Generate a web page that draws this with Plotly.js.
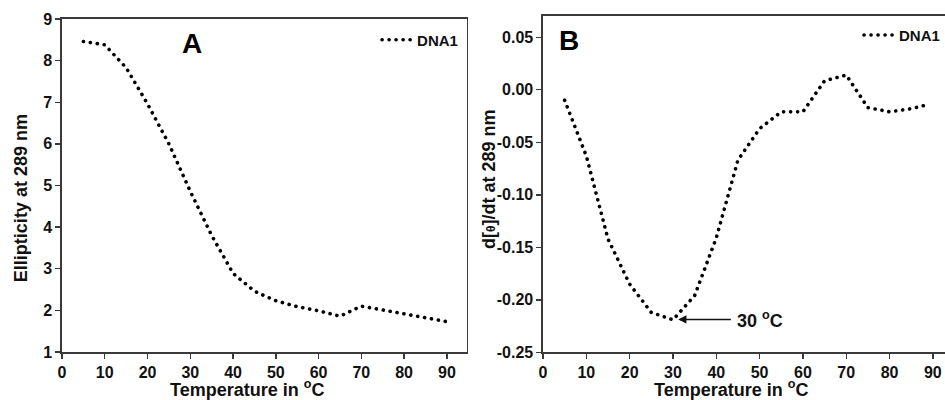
<!DOCTYPE html>
<html>
<head>
<meta charset="utf-8">
<script src="https://cdn.plot.ly/plotly-3.0.1.min.js"></script>
<style>
  html, body { margin: 0; padding: 0; background: #fff; }
  #chart { width: 945px; height: 400px; }
  .scatterlayer path.js-line, .legendlines path { stroke-linecap: round; }
</style>
</head>
<body>
<div id="chart"></div>
<script>
// ---- data ----
const tempA = [5, 10, 15, 20, 25, 30, 35, 40, 45, 50, 55, 60, 65, 70, 75, 80, 85, 90];
const ellipticity = [8.46, 8.38, 7.83, 6.96, 6.0, 4.86, 3.80, 2.89, 2.46, 2.23, 2.09, 1.99, 1.86, 2.10, 2.01, 1.91, 1.81, 1.73];

const tempB = [5, 10, 15, 20, 25, 30, 35, 40, 45, 50, 55, 60, 65, 70, 75, 80, 85, 89];
const derivative = [-0.010, -0.063, -0.142, -0.185, -0.212, -0.219, -0.196, -0.141, -0.067, -0.037, -0.021, -0.021, 0.0085, 0.014, -0.017, -0.021, -0.018, -0.014];

const xTicks = [0, 10, 20, 30, 40, 50, 60, 70, 80, 90];
const yTicksA = [1, 2, 3, 4, 5, 6, 7, 8, 9];
const yTicksB = [-0.25, -0.20, -0.15, -0.10, -0.05, 0.00, 0.05];
const yTickTextB = ["-0.25", "-0.20", "-0.15", "-0.10", "-0.05", "0.00", "0.05"];
const seriesName = "DNA1";
const peakLabel = "30 <sup>o</sup>C";
const peakPoint = [31.2, -0.2186];

// ---- styling ----
const FONT = "Liberation Sans, Arial, Helvetica, sans-serif";
const AX = "#3a3a3a";
const dotLine = { color: "#000", width: 3.6, dash: "0.1px,6.9px" };

const axisBase = {
  showgrid: false, zeroline: false, showline: true, linecolor: AX, linewidth: 1.6,
  ticks: "outside", ticklen: 5, tickwidth: 1.4, tickcolor: AX,
  tickfont: { family: FONT, size: 16, color: "#111", weight: "bold" }
};

const traces = [
  { x: tempA, y: ellipticity, xaxis: "x", yaxis: "y", mode: "lines", name: seriesName,
    line: dotLine, legend: "legend", hoverinfo: "skip" },
  { x: tempB, y: derivative, xaxis: "x2", yaxis: "y2", mode: "lines", name: seriesName,
    line: dotLine, legend: "legend2", hoverinfo: "skip" }
];

const legendBase = {
  bgcolor: "rgba(0,0,0,0)", borderwidth: 0,
  font: { family: FONT, size: 15, color: "#111", weight: "bold" },
  xanchor: "right", yanchor: "middle", itemwidth: 30, tracegroupgap: 0
};

const titleFont = { family: FONT, size: 18, color: "#111", weight: "bold" };

const layout = {
  width: 945, height: 400,
  margin: { l: 0, r: 0, t: 0, b: 0 },
  paper_bgcolor: "#fff", plot_bgcolor: "#fff",
  font: { family: FONT, color: "#111", weight: "bold" },
  showlegend: true,
  legend: Object.assign({}, legendBase, { x: 0.49, y: 0.90 }),
  legend2: Object.assign({}, legendBase, { x: 1.0, y: 0.912 }),
  xaxis: Object.assign({}, axisBase, { domain: [0.0656, 0.4937], range: [0, 94.6], anchor: "y",
    tickvals: xTicks, mirror: true }),
  yaxis: Object.assign({}, axisBase, { domain: [0.12, 0.9525], range: [1, 9], anchor: "x",
    tickvals: yTicksA, mirror: true }),
  xaxis2: Object.assign({}, axisBase, { domain: [0.5746, 1.0], range: [0, 92.8], anchor: "y2",
    tickvals: xTicks, mirror: true }),
  yaxis2: Object.assign({}, axisBase, { domain: [0.119, 0.961], range: [-0.25, 0.0706], anchor: "x2",
    tickvals: yTicksB, ticktext: yTickTextB, mirror: false }),
  annotations: [
    // panel letters
    { text: "A", xref: "x", yref: "y", x: 30.4, y: 8.42, showarrow: false,
      font: { family: FONT, size: 28, color: "#000", weight: "bold" } },
    { text: "B", xref: "x2", yref: "y2", x: 5.9, y: 0.0469, showarrow: false,
      font: { family: FONT, size: 28, color: "#000", weight: "bold" } },
    // axis titles
    { text: "Temperature in <sup>o</sup>C", xref: "x", yref: "paper", x: 43.3, y: -0.004,
      xanchor: "center", yanchor: "bottom", showarrow: false, font: titleFont },
    { text: "Temperature in <sup>o</sup>C", xref: "x2", yref: "paper", x: 43.3, y: -0.004,
      xanchor: "center", yanchor: "bottom", showarrow: false, font: titleFont },
    { text: "Ellipticity at 289 nm", xref: "paper", yref: "paper", x: 0.023, y: 0.504,
      xanchor: "center", yanchor: "middle", textangle: -90, showarrow: false, font: titleFont },
    { text: "d[<span style='font-size:12px'>θ</span>]/dt at 289 nm", xref: "paper", yref: "paper",
      x: 0.5175, y: 0.5525, xanchor: "center", yanchor: "middle", textangle: -90, showarrow: false,
      font: titleFont },
    // arrow to minimum
    { text: "", xref: "x2", yref: "y2", x: peakPoint[0], y: peakPoint[1],
      axref: "x2", ayref: "y2", ax: 43.7, ay: peakPoint[1], showarrow: true,
      arrowhead: 2, arrowsize: 1.1, arrowwidth: 1.5, arrowcolor: "#111", standoff: 0 },
    { text: peakLabel, xref: "x2", yref: "y2", x: 44.3, y: peakPoint[1], xanchor: "left",
      yanchor: "middle", showarrow: false, font: { family: FONT, size: 18, color: "#111", weight: "bold" } }
  ]
};

Plotly.newPlot("chart", traces, layout, { displayModeBar: false, staticPlot: true });
</script>
</body>
</html>
